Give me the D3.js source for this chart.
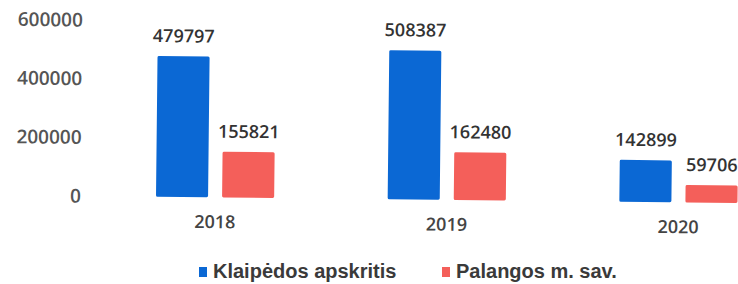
<!doctype html>
<html>
<head>
    <meta charset="UTF-8">
    <title>Klaipėdos apskritis / Palangos m. sav.</title>
    <script src="https://d3js.org/d3.v7.min.js"></script>
    <style>
        body { margin: 0; background: #fff; }
    </style>
</head>
<body>
  <svg width="738" height="284"></svg>
   <script>
       // data
       var years = ["2018", "2019", "2020"];
       var seriesNames = ["Klaipėdos apskritis", "Palangos m. sav."];
       var klaipeda = [479797, 508387, 142899];
       var palanga = [155821, 162480, 59706];
       var yTicks = [0, 200000, 400000, 600000];
       var colors = ["#0b68d4", "#f45f5a"];

       var svg = d3.select("svg");
       // the scan is tilted a little, so the plot is turned by the same amount
       var chart = svg.append("g").attr("transform", "rotate(0.62,181,197)");

       var y = d3.scaleLinear().domain([0, 600000]).range([197, 21]);
       var x = d3.scaleBand().domain(years).range([156, 737.5]).paddingInner(0.49).paddingOuter(0);
       var xs = d3.scaleBand().domain(seriesNames).range([0, x.bandwidth()]).paddingInner(0.212);

       var flat = [];
       years.forEach(function(yr, i){
           flat.push({year: yr, name: seriesNames[0], value: klaipeda[i], s: 0});
           flat.push({year: yr, name: seriesNames[1], value: palanga[i], s: 1});
       });

       var numFont = "'Open Sans', 'DejaVu Sans', sans-serif";

       // y axis labels only, no line or ticks
       chart.append("g")
            .attr("transform", "translate(81,0)")
            .call(d3.axisLeft(y).tickValues(yTicks).tickSize(0).tickPadding(0).tickFormat(d3.format("d")))
            .call(function(g){ g.select(".domain").remove(); })
            .selectAll("text")
            .attr("fill", "#555")
            .style("font-family", numFont)
            .style("font-weight", "600")
            .style("font-size", "19px");

       chart.selectAll("rect.bar")
            .data(flat)
            .enter().append("rect")
            .attr("class", "bar")
            .attr("x", function(d){ return x(d.year) + xs(d.name); })
            .attr("y", function(d){ return y(d.value); })
            .attr("width", xs.bandwidth())
            .attr("height", function(d){ return y(0) - y(d.value); })
            .attr("rx", 1.5)
            .attr("fill", function(d){ return colors[d.s]; });

       chart.selectAll("text.val")
            .data(flat)
            .enter().append("text")
            .attr("class", "val")
            .attr("x", function(d){ return x(d.year) + xs(d.name) + xs.bandwidth() / 2; })
            .attr("y", function(d){ return y(d.value) - 14; })
            .attr("text-anchor", "middle")
            .attr("fill", "#333")
            .style("font-family", numFont)
            .style("font-weight", "600")
            .style("font-size", "18px")
            .text(function(d){ return d.value; });

       chart.append("g")
            .attr("transform", "translate(0,215)")
            .call(d3.axisBottom(x).tickSize(0).tickPadding(0))
            .call(function(g){ g.select(".domain").remove(); })
            .selectAll("text")
            .attr("dy", "0.71em")
            .attr("fill", "#444")
            .style("font-family", numFont)
            .style("font-weight", "600")
            .style("font-size", "18px");

       // legend
       var legendX = [199, 442];
       var legend = svg.append("g").selectAll("g")
            .data(seriesNames)
            .enter().append("g")
            .attr("transform", function(d, i){ return "translate(" + legendX[i] + ",267)"; });
       legend.append("rect")
            .attr("width", 8)
            .attr("height", 10)
            .attr("fill", function(d, i){ return colors[i]; });
       legend.append("text")
            .attr("x", 14)
            .attr("y", 11)
            .attr("fill", "#3a3a3a")
            .style("font-family", "Liberation Sans")
            .style("font-weight", "bold")
            .style("font-size", "20px")
            .text(function(d){ return d; });
    </script>
</body>
</html>
